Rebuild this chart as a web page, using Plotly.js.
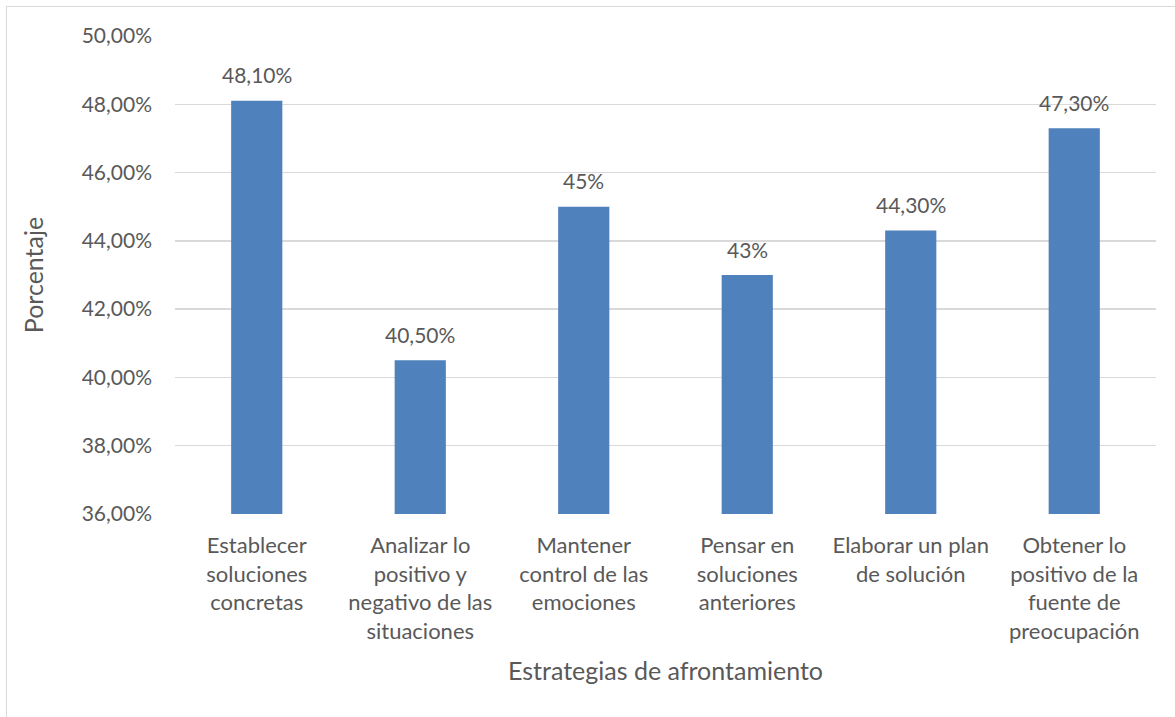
<!DOCTYPE html>
<html>
<head>
<meta charset="utf-8">
<script src="https://cdn.plot.ly/plotly-3.0.1.min.js"></script>
<style>
  html, body { margin: 0; padding: 0; background: #fff; overflow: hidden; }
  #wrap { position: relative; width: 1175px; height: 717px; }
  #frame { position: absolute; left: 6px; top: 6px; width: 1200px; height: 800px; border: 1.5px solid #d9d9d9; box-sizing: border-box; pointer-events: none; }
  #chart { position: absolute; left: 0; top: 0; width: 1175px; height: 717px; }
</style>
</head>
<body>
<div id="wrap">
  <div id="chart"></div>
  <div id="frame"></div>
</div>
<script>
const categories = [
  "Establecer<br>soluciones<br>concretas",
  "Analizar lo<br>positivo y<br>negativo de las<br>situaciones",
  "Mantener<br>control de las<br>emociones",
  "Pensar en<br>soluciones<br>anteriores",
  "Elaborar un plan<br>de solución",
  "Obtener lo<br>positivo de la<br>fuente de<br>preocupación"
];
const values = [0.481, 0.405, 0.45, 0.43, 0.443, 0.473];
const valueLabels = ["48,10%", "40,50%", "45%", "43%", "44,30%", "47,30%"];
const yTicks = [0.36, 0.38, 0.40, 0.42, 0.44, 0.46, 0.48, 0.50];

const FONT = "Lato, 'Open Sans', sans-serif";
const TXT = "#595959";

const trace = {
  type: "bar",
  x: categories,
  y: values,
  marker: { color: "#4F81BD" },
  width: 0.313,
  hoverinfo: "none"
};

const labelAnnotations = categories.map((c, i) => ({
  x: c,
  y: values[i],
  xref: "x",
  yref: "y",
  text: valueLabels[i],
  showarrow: false,
  yanchor: "middle",
  xanchor: "center",
  yshift: 26,
  font: { family: FONT, size: 21, color: TXT }
}));

const layout = {
  width: 1175,
  height: 717,
  margin: { l: 175, r: 19, t: 36, b: 203 },
  paper_bgcolor: "#ffffff",
  plot_bgcolor: "#ffffff",
  separators: ",.",
  showlegend: false,
  font: { family: FONT, size: 21, color: TXT },
  annotations: labelAnnotations,
  xaxis: {
    type: "category",
    tickangle: 0,
    ticks: "",
    showgrid: false,
    zeroline: false,
    showline: false,
    tickfont: { family: FONT, size: 22, color: TXT },
    ticklabelstandoff: 16,
    title: { text: "Estrategias de afrontamiento", font: { family: FONT, size: 25, color: TXT }, standoff: 19 }
  },
  yaxis: {
    range: [0.36, 0.50],
    tickvals: yTicks,
    tickformat: ".2%",
    ticks: "",
    showgrid: true,
    gridcolor: "#d9d9d9",
    gridwidth: 1.5,
    zeroline: false,
    showline: false,
    tickfont: { family: FONT, size: 21, color: TXT },
    ticklabelstandoff: 22,
    title: { text: "Porcentaje", font: { family: FONT, size: 25, color: TXT }, standoff: 30 }
  }
};

Plotly.newPlot("chart", [trace], layout, { staticPlot: true, displayModeBar: false });
</script>
</body>
</html>
